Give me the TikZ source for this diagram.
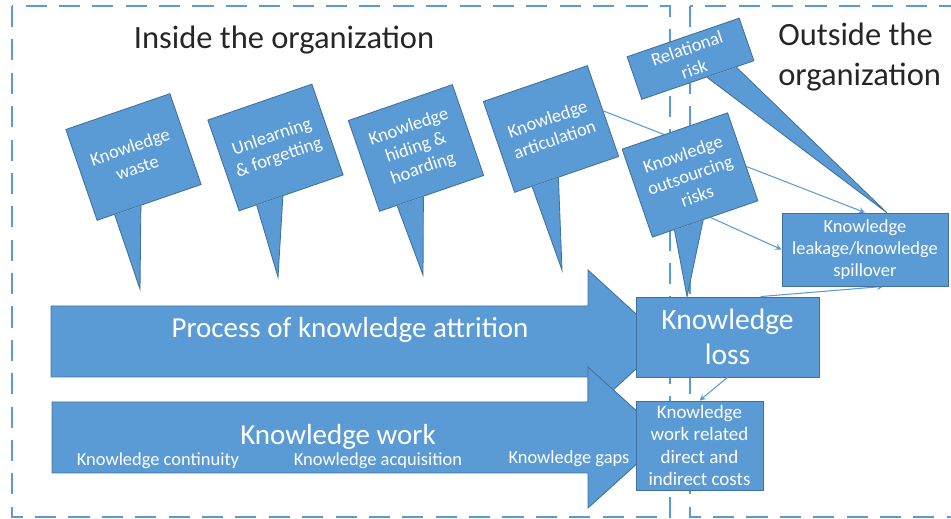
\documentclass[tikz,border=0pt]{standalone}
\usepackage{fontspec}
\setmainfont{Carlito}
\usetikzlibrary{calc}
\definecolor{boxblue}{HTML}{5B9BD5}
\definecolor{boxedge}{HTML}{41719C}
\definecolor{regionblue}{HTML}{5B9BD5}
\pgfdeclarelayer{back}
\pgfsetlayers{back,main}
\begin{document}
\begin{tikzpicture}[x=0.02cm, y=-0.02cm,
        region/.style={draw=regionblue, line width=1.1pt, dash pattern=on 12pt off 7pt},
        title/.style={font=\fontsize{18.5}{22.5}\selectfont, text=black!85, align=left, inner sep=0pt},
        callout/.style={fill=boxblue, draw=boxedge, line width=0.5pt, text=white, align=center, rotate=19, inner sep=2pt, minimum width=2.2cm, minimum height=1.92cm, font=\fontsize{10.5}{12.5}\selectfont},
        tail/.style={fill=boxblue, draw=boxedge, line width=0.5pt},
        flat box/.style={fill=boxblue, draw=boxedge, line width=0.5pt, text=white, align=center, inner sep=2pt},
        big arrow/.style={fill=boxblue, draw=boxedge, line width=0.5pt},
        arrow text/.style={text=white, inner sep=0pt, font=\fontsize{16.5}{20}\selectfont},
        small text/.style={text=white, inner sep=0pt, font=\fontsize{10.5}{12.5}\selectfont},
        thin edge/.style={draw=boxblue, line width=0.6pt},
        thin arrow/.style={draw=boxblue, line width=0.6pt, -stealth}
    ]
	\useasboundingbox (0,0) rectangle (951,519);
	\begin{pgfonlayer}{back}
	\draw[region] (12,6) rectangle (670,517);
	\draw[region] (690,6) rectangle (965,517);
	\end{pgfonlayer}
	\node[title] (inside) at (284,40) {Inside the organization};
	\node[title, anchor=west] (outside) at (778,57) {Outside the\\organization};
	\draw[big arrow] (51,306) -- (588,306) -- (588,270) -- (666,341.5) -- (588,413) -- (588,377) -- (51,377) -- cycle;
	\draw[big arrow] (52,402) -- (588,402) -- (588,367) -- (666,437.5) -- (588,508) -- (588,473) -- (52,473) -- cycle;
	\node[arrow text] (attrition) at (350,330) {Process of knowledge attrition};
	\node[arrow text] (work) at (338,437) {Knowledge work};
	\node[small text] (continuity) at (158,461) {Knowledge continuity};
	\node[small text] (acquisition) at (378,461) {Knowledge acquisition};
	\node[small text] (gaps) at (569,459) {Knowledge gaps};
	\node[flat box, minimum width=3.66cm, minimum height=1.6cm, font=\fontsize{16.8}{20}\selectfont] (loss) at (727.5,337) {Knowledge\\loss};
	\node[flat box, minimum width=2.54cm, minimum height=1.78cm, font=\fontsize{10.8}{12.6}\selectfont] (costs) at (699.5,445.5) {Knowledge\\work related\\direct and\\indirect costs};
	\node[flat box, minimum width=3.32cm, minimum height=1.46cm, font=\fontsize{10.5}{12.5}\selectfont] (leakage) at (865,249.5) {Knowledge\\leakage/knowledge\\spillover};
	\node[callout] (waste) at (133.5,157) {Knowledge\\waste};
	\node[callout] (unlearning) at (275.5,147.5) {Unlearning\\\& forgetting};
	\node[callout] (hiding) at (416,148) {Knowledge\\hiding \&\\hoarding};
	\node[callout] (articulation) at (551,129) {Knowledge\\articulation};
	\node[callout, minimum width=2.37cm, minimum height=0.9cm] (relational) at (690.5,58.75) {Relational\\risk};
	\node[callout, minimum width=2.23cm, minimum height=1.86cm] (outsourcing) at (690,175) {Knowledge\\outsourcing\\risks};
	\coordinate (waste_tip) at (140,289);
	\coordinate (unlearning_tip) at (278,277);
	\coordinate (hiding_tip) at (423,275);
	\coordinate (articulation_tip) at (562,270);
	\draw[tail] ($(waste.south west)!0.17!(waste.south east)$) -- (waste_tip) -- ($(waste.south west)!0.42!(waste.south east)$);
	\draw[tail] ($(unlearning.south west)!0.17!(unlearning.south east)$) -- (unlearning_tip) -- ($(unlearning.south west)!0.42!(unlearning.south east)$);
	\draw[tail] ($(hiding.south west)!0.17!(hiding.south east)$) -- (hiding_tip) -- ($(hiding.south west)!0.42!(hiding.south east)$);
	\draw[tail] ($(articulation.south west)!0.17!(articulation.south east)$) -- (articulation_tip) -- ($(articulation.south west)!0.42!(articulation.south east)$);
	\draw[tail] ($(outsourcing.south west)!0.21!(outsourcing.south east)$) -- ($(loss.north west)!0.28!(loss.north east)$) -- ($(outsourcing.south west)!0.48!(outsourcing.south east)$);
	\draw[tail] ($(relational.south west)!0.58!(relational.south east)$) -- ($(leakage.north west)!0.63!(leakage.north east)$) -- ($(relational.south west)!0.84!(relational.south east)$);
	\begin{pgfonlayer}{back}
	\draw[thin arrow] (articulation.east) -- (leakage.north);
	\draw[thin arrow] ($(outsourcing.south west)!0.55!(outsourcing.south east)$) -- (leakage.west);
	\draw[thin arrow] ($(loss.north west)!0.68!(loss.north east)$) -- ($(leakage.south west)!0.61!(leakage.south east)$);
	\end{pgfonlayer}
	\draw[thin arrow] (loss.south) -- (costs.north);
\end{tikzpicture}
\end{document}
